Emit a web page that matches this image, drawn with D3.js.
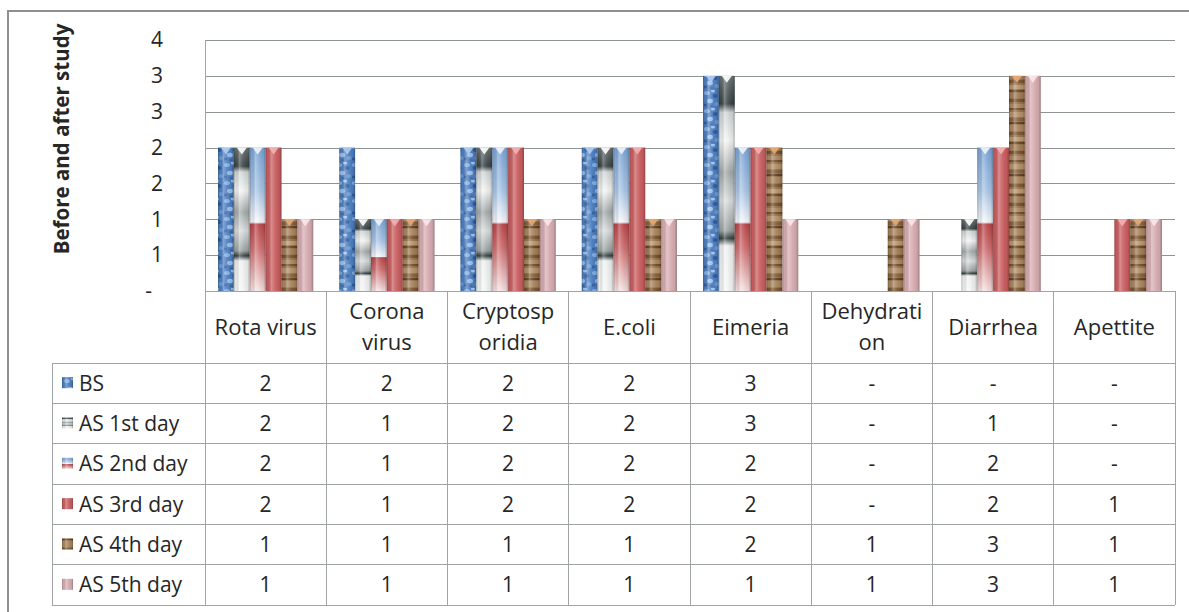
<!DOCTYPE html>
<html><head><meta charset="utf-8">
<script src="https://cdn.jsdelivr.net/npm/d3@7"></script>
<style>
html,body{margin:0;padding:0;background:#fff;overflow:hidden}
svg{display:block}
text{font-family:"Open Sans",sans-serif;fill:#262626}
</style>
</head><body>
<svg id="chart" width="1189" height="612"></svg>
<script>
// ---------- data ----------
const categories = ["Rota virus","Corona virus","Cryptosporidia","E.coli","Eimeria","Dehydration","Diarrhea","Apettite"];
const categoryLabelLines = [["Rota virus"],["Corona","virus"],["Cryptosp","oridia"],["E.coli"],["Eimeria"],["Dehydrati","on"],["Diarrhea"],["Apettite"]];
const seriesNames = ["BS","AS 1st day","AS 2nd day","AS 3rd day","AS 4th day","AS 5th day"];
const bsValues  = [2,2,2,2,3,0,0,0];
const as1Values = [2,1,2,2,3,0,1,0];
const as2Values = [2,1,2,2,2,0,2,0];
const as3Values = [2,1,2,2,2,0,2,1];
const as4Values = [1,1,1,1,2,1,3,1];
const as5Values = [1,1,1,1,1,1,3,1];
const yTickValues = [0,0.5,1,1.5,2,2.5,3,3.5];
const yAxisTitle = "Before and after study";

const seriesValues = [bsValues, as1Values, as2Values, as3Values, as4Values, as5Values];

// ---------- layout ----------
const svg = d3.select("#chart");
const plotL = 205, plotR = 1175, plotT = 40, plotB = 291;
const headerB = 363, tableB = 605, labelL = 52;
const rowH = (tableB - headerB) / seriesNames.length;

const x = d3.scaleBand().domain(categories).range([plotL, plotR]).paddingInner(0).paddingOuter(0);
const xs = d3.scaleBand().domain(seriesNames).range([13, x.bandwidth() - 13]).padding(0);
const y = d3.scaleLinear().domain([0, 3.5]).range([plotB, plotT]);
const fmt = v => v === 0 ? "-" : d3.format(".0f")(v);

// ---------- defs (fills) ----------
const defs = svg.append("defs");
function lin(id, stops, vertical) {
  const g = defs.append("linearGradient").attr("id", id)
    .attr("x1", 0).attr("y1", 0).attr("x2", vertical ? 0 : 1).attr("y2", vertical ? 1 : 0);
  stops.forEach(s => g.append("stop").attr("offset", s[0]).attr("stop-color", s[1]).attr("stop-opacity", s[2] == null ? 1 : s[2]));
}
lin("cyl", [[0,"#000",0.25],[0.12,"#000",0.04],[0.35,"#fff",0.3],[0.55,"#fff",0.1],[0.85,"#000",0.06],[1,"#000",0.28]], false);
lin("g1", [[0,"#6b7475"],[0.13,"#394345"],[0.17,"#cfd4d4"],[0.3,"#f2f3f3"],[0.45,"#a3a9a9"],[0.58,"#d9dcdc"],[0.72,"#9aa1a1"],[0.755,"#33403f"],[0.79,"#eef0f0"],[1,"#f4f5f5"]], true);
lin("g2", [[0,"#7aa3d3"],[0.3,"#a9c5e6"],[0.52,"#f4f7fb"],[0.535,"#b9474a"],[0.7,"#cf6e70"],[1,"#f6e2e2"]], true);

// BS speckled blue
const pBS = defs.append("pattern").attr("id","pBS").attr("patternUnits","userSpaceOnUse").attr("width",16).attr("height",18);
pBS.append("rect").attr("width",16).attr("height",18).attr("fill","#4c7fc2");
[[3,3,3,2,"#86aee0"],[11,6,2.5,2,"#2d5d9d"],[6,11,3,2.2,"#9bbde8"],[13,14,2.5,2,"#6d9ad3"],[1,15,2,1.6,"#2f5f9f"],[9,1,2,1.5,"#a7c5ec"],[7,16,1.8,1.3,"#3a6aab"]]
  .forEach(e => pBS.append("ellipse").attr("cx",e[0]).attr("cy",e[1]).attr("rx",e[2]).attr("ry",e[3]).attr("fill",e[4]));

// AS4 wood
const pW = defs.append("pattern").attr("id","pW").attr("patternUnits","userSpaceOnUse").attr("width",1200).attr("height",52);
pW.append("rect").attr("width",1200).attr("height",52).attr("fill","#96714b");
[[0,4,"#a98660",1],[4,2,"#6e4a29",0.9],[8,5,"#b39068",1],[14,3,"#84603c",1],[18,2,"#5c3b1d",0.9],[21,6,"#a8845c",1],[28,3,"#7a5531",1],[33,4,"#b8966d",1],[38,2,"#5e3d1f",0.85],[41,5,"#a07b53",1],[47,3,"#72502d",1]]
  .forEach(s => pW.append("rect").attr("y",s[0]).attr("width",1200).attr("height",s[1]).attr("fill",s[2]).attr("opacity",s[3]));

const seriesFill = ["url(#pBS)","url(#g1)","url(#g2)","#cb5e60","url(#pW)","#d8adb2"];
const notchFill = ["#b3cdef","#ffffff","#eef4fb","#f3b3b3","#e8a976","#fbe8ea"];

// ---------- outer frame ----------
svg.append("path").attr("d","M8,612V11H1189").attr("fill","none").attr("stroke","#8c9090").attr("stroke-width",2);

// ---------- gridlines & axis ----------
svg.append("g").selectAll("line").data(yTickValues.slice(1)).join("line")
  .attr("x1", plotL).attr("x2", plotR).attr("y1", d => Math.round(y(d)) + 0.5).attr("y2", d => Math.round(y(d)) + 0.5)
  .attr("stroke","#8e9494").attr("stroke-width",1);

const yAxis = d3.axisLeft(y).tickValues(yTickValues).tickFormat(fmt).tickSize(0).tickPadding(42);
const ya = svg.append("g").attr("transform", `translate(${plotL},0)`).call(yAxis);
ya.select(".domain").remove();
ya.selectAll("text").attr("font-size", 21).attr("fill","#262626").style("font-family",'"Open Sans",sans-serif')
  .attr("dx", d => d === 0 ? -11 : 0);

svg.append("text").attr("transform","translate(69,139) rotate(-90)").attr("text-anchor","middle")
  .attr("font-size",20.5).attr("font-weight","bold").attr("fill","#000").text(yAxisTitle);

// ---------- bars ----------
const barG = svg.append("g");
seriesNames.forEach((s, i) => {
  categories.forEach((c, j) => {
    const v = seriesValues[i][j];
    if (!v) return;
    const bx = x(c) + xs(s), bw = xs.bandwidth(), by = y(v), bh = y(0) - y(v);
    barG.append("rect").attr("x", bx).attr("y", by).attr("width", bw).attr("height", bh).attr("fill", seriesFill[i]);
    barG.append("rect").attr("x", bx).attr("y", by).attr("width", bw).attr("height", bh).attr("fill", "url(#cyl)");
    barG.append("path").attr("d", `M${bx+bw*0.18},${by}L${bx+bw*0.82},${by}L${bx+bw/2},${by+7}Z`)
      .attr("fill", notchFill[i]).attr("opacity", 0.9);
  });
});

// ---------- data table ----------
const tb = svg.append("g").attr("stroke","#a0a4a4").attr("stroke-width",1).attr("fill","none").attr("shape-rendering","crispEdges");
tb.append("line").attr("x1",plotL).attr("x2",plotL).attr("y1",plotT).attr("y2",tableB);
tb.append("line").attr("x1",plotL).attr("x2",plotR).attr("y1",plotB).attr("y2",plotB);
tb.append("line").attr("x1",labelL).attr("x2",plotR).attr("y1",headerB).attr("y2",headerB);
seriesNames.forEach((s,i) => {
  const yy = headerB + rowH*(i+1);
  tb.append("line").attr("x1",labelL).attr("x2",plotR).attr("y1",yy).attr("y2",yy);
});
tb.append("line").attr("x1",labelL).attr("x2",labelL).attr("y1",headerB).attr("y2",tableB);
categories.forEach(c => {
  const xx = x(c) + x.bandwidth();
  tb.append("line").attr("x1",xx).attr("x2",xx).attr("y1",plotB).attr("y2",tableB);
});

// header labels
const hdr = svg.append("g");
categories.forEach((c, j) => {
  const lines = categoryLabelLines[j];
  const cx = x(c) + x.bandwidth()/2;
  const t = hdr.append("text").attr("text-anchor","middle").attr("font-size",22).attr("fill","#262626");
  const base = lines.length === 1 ? 335 : 319;
  lines.forEach((l, k) => t.append("tspan").attr("x", cx).attr("y", base + k*31).text(l));
});

// row labels with legend keys, and values
seriesNames.forEach((s, i) => {
  const cy = headerB + rowH*i + rowH/2;
  svg.append("rect").attr("x",62).attr("y",cy-6).attr("width",11).attr("height",11).attr("fill",seriesFill[i]);
  svg.append("rect").attr("x",62).attr("y",cy-6).attr("width",11).attr("height",11).attr("fill","url(#cyl)");
  svg.append("text").attr("x",79).attr("y",cy).attr("dy","0.36em").attr("font-size",21).attr("fill","#262626").text(s);
  categories.forEach((c, j) => {
    svg.append("text").attr("x", x(c) + x.bandwidth()/2).attr("y", cy).attr("dy","0.36em")
      .attr("text-anchor","middle").attr("font-size",21).attr("fill","#262626").text(fmt(seriesValues[i][j]));
  });
});
</script>
</body></html>
